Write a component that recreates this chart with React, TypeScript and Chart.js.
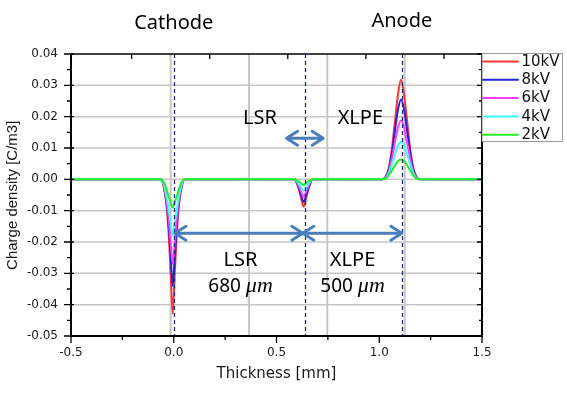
import { useEffect, useRef } from "react";
import { Chart, registerables } from "chart.js";

Chart.register(...registerables);

// ---- data ----
const thicknessMm = [
  -0.5,
  -0.065, -0.05, -0.035, -0.025, -0.015, -0.005, 0.005, 0.015, 0.025, 0.04, 0.055,
  0.587, 0.602, 0.617, 0.632, 0.647, 0.662, 0.677,
  1.016, 1.031, 1.046, 1.061, 1.076, 1.091, 1.106, 1.121, 1.136, 1.151, 1.166, 1.181, 1.196,
  1.5,
];

const rho10kV = [
  0,
  0, -0.0021, -0.0086, -0.0172, -0.030, -0.043, -0.030, -0.0172, -0.0086, -0.0021, 0,
  0, -0.0018, -0.0053, -0.0088, -0.0053, -0.0018, 0,
  0, 0.0008, 0.0035, 0.0095, 0.0184, 0.027, 0.0318, 0.027, 0.0184, 0.0095, 0.0035, 0.0008, 0,
  0,
];
const rho8kV = [
  0,
  0, -0.0017, -0.0075, -0.0143, -0.0245, -0.034, -0.0245, -0.0143, -0.0075, -0.0017, 0,
  0, -0.0015, -0.0044, -0.0072, -0.0044, -0.0015, 0,
  0, 0.0008, 0.0031, 0.0082, 0.0153, 0.0222, 0.0255, 0.0222, 0.0153, 0.0082, 0.0031, 0.0008, 0,
  0,
];
const rho6kV = [
  0,
  0, -0.0016, -0.0068, -0.0124, -0.020, -0.027, -0.020, -0.0124, -0.0068, -0.0016, 0,
  0, -0.0012, -0.0034, -0.0056, -0.0034, -0.0012, 0,
  0, 0.0006, 0.0024, 0.0064, 0.0117, 0.0165, 0.0188, 0.0165, 0.0117, 0.0064, 0.0024, 0.0006, 0,
  0,
];
const rho4kV = [
  0,
  0, -0.0013, -0.0054, -0.0094, -0.0139, -0.018, -0.0139, -0.0094, -0.0054, -0.0013, 0,
  0, -0.0008, -0.0024, -0.0038, -0.0024, -0.0008, 0,
  0, 0.0004, 0.0018, 0.0046, 0.0079, 0.0108, 0.012, 0.0108, 0.0079, 0.0046, 0.0018, 0.0004, 0,
  0,
];
const rho2kV = [
  0,
  0, -0.0007, -0.0032, -0.0054, -0.0072, -0.009, -0.0072, -0.0054, -0.0032, -0.0007, 0,
  0, -0.0004, -0.0011, -0.0018, -0.0011, -0.0004, 0,
  0, 0.0003, 0.0013, 0.0028, 0.0045, 0.0058, 0.0063, 0.0058, 0.0045, 0.0028, 0.0013, 0.0003, 0,
  0,
];

const seriesLabels = ["10kV", "8kV", "6kV", "4kV", "2kV"];
const seriesValues = [rho10kV, rho8kV, rho6kV, rho4kV, rho2kV];
const seriesColors = ["#ff3434", "#2424dc", "#ff3cff", "#3cffff", "#22ee22"];

const xMajorTicks = [-0.5, 0, 0.5, 1.0, 1.5];
const yMajorTicks = [-0.05, -0.04, -0.03, -0.02, -0.01, 0, 0.01, 0.02, 0.03, 0.04];
const verticalGridX = [-0.015, 0.366, 0.747, 1.124];
const topTickX = [-0.205, 0.175, 0.555, 0.935, 1.315];
const interfaceX = [0.0, 0.637, 1.113];

const electrodeLabels = [
  { text: "Cathode", x: 0.0, dy: -31 },
  { text: "Anode", x: 1.11, dy: -33 },
];
const upperLayerLabels = [
  { text: "LSR", x: 0.42, y: 0.0195 },
  { text: "XLPE", x: 0.908, y: 0.0195 },
];
const lowerLayerLabels = [
  { text: "LSR", num: "680 ", x: 0.325 },
  { text: "XLPE", num: "500 ", x: 0.87 },
];
const lowerLabelY = -0.0259;
const lowerNumY = -0.0341;
const lowerArrows = [
  [0.006, 0.628],
  [0.628, 1.11],
];
const lowerArrowY = -0.0172;
const upperArrow = [0.549, 0.727];
const upperArrowY = 0.0131;

const ARROW = "#4a7ebb";

function dblArrow(ctx: CanvasRenderingContext2D, x1: number, x2: number, yy: number) {
  const h = 11;
  const w = 7;
  ctx.beginPath();
  ctx.moveTo(x1 + 1, yy);
  ctx.lineTo(x2 - 1, yy);
  ctx.stroke();
  ctx.beginPath();
  ctx.moveTo(x1 + h, yy - w);
  ctx.lineTo(x1, yy);
  ctx.lineTo(x1 + h, yy + w);
  ctx.stroke();
  ctx.beginPath();
  ctx.moveTo(x2 - h, yy - w);
  ctx.lineTo(x2, yy);
  ctx.lineTo(x2 - h, yy + w);
  ctx.stroke();
}

const decorPlugin = {
  id: "decor",
  beforeDatasetsDraw(chart: any) {
    const { ctx, chartArea: a, scales } = chart;
    const xs = scales.x;
    const ys = scales.y;
    ctx.save();
    ctx.strokeStyle = "#c6c6c6";
    ctx.lineWidth = 1.5;
    for (const v of yMajorTicks) {
      const py = ys.getPixelForValue(v);
      if (py <= a.top + 1 || py >= a.bottom - 1) continue;
      ctx.beginPath();
      ctx.moveTo(a.left, py);
      ctx.lineTo(a.right, py);
      ctx.stroke();
    }
    ctx.lineWidth = 2;
    for (const v of verticalGridX) {
      const px = xs.getPixelForValue(v);
      ctx.beginPath();
      ctx.moveTo(px, a.top);
      ctx.lineTo(px, a.bottom);
      ctx.stroke();
    }
    ctx.restore();
  },
  afterDatasetsDraw(chart: any) {
    const { ctx, chartArea: a, scales } = chart;
    const xs = scales.x;
    const ys = scales.y;
    ctx.save();

    // dashed interface lines
    ctx.strokeStyle = "#1c2f78";
    ctx.lineWidth = 1.3;
    ctx.setLineDash([4, 3]);
    for (const v of interfaceX) {
      const px = Math.round(xs.getPixelForValue(v)) + 0.5;
      ctx.beginPath();
      ctx.moveTo(px, a.top);
      ctx.lineTo(px, a.bottom);
      ctx.stroke();
    }
    ctx.setLineDash([]);

    // frame
    ctx.strokeStyle = "#000";
    ctx.lineWidth = 2;
    ctx.beginPath();
    ctx.moveTo(a.left, a.top);
    ctx.lineTo(a.left, a.bottom);
    ctx.lineTo(a.right, a.bottom);
    ctx.lineTo(a.right, a.top);
    ctx.stroke();
    ctx.lineWidth = 1.5;
    ctx.beginPath();
    ctx.moveTo(a.left, a.top);
    ctx.lineTo(a.right, a.top);
    ctx.stroke();

    // ticks
    ctx.lineWidth = 1.3;
    ctx.beginPath();
    for (let i = 0; i < xMajorTicks.length; i++) {
      const px = xs.getPixelForValue(xMajorTicks[i]);
      ctx.moveTo(px, a.bottom);
      ctx.lineTo(px, a.bottom + 7);
      if (i < xMajorTicks.length - 1) {
        const pm = xs.getPixelForValue((xMajorTicks[i] + xMajorTicks[i + 1]) / 2);
        ctx.moveTo(pm, a.bottom);
        ctx.lineTo(pm, a.bottom + 4);
      }
    }
    for (let i = 0; i < yMajorTicks.length; i++) {
      const py = ys.getPixelForValue(yMajorTicks[i]);
      ctx.moveTo(a.left - 7, py);
      ctx.lineTo(a.left + 3, py);
      ctx.moveTo(a.right - 5, py);
      ctx.lineTo(a.right, py);
      if (i < yMajorTicks.length - 1) {
        const pm = ys.getPixelForValue((yMajorTicks[i] + yMajorTicks[i + 1]) / 2);
        ctx.moveTo(a.left - 4, pm);
        ctx.lineTo(a.left, pm);
        ctx.moveTo(a.right - 3, pm);
        ctx.lineTo(a.right, pm);
      }
    }
    for (const v of topTickX) {
      const px = xs.getPixelForValue(v);
      ctx.moveTo(px, a.top);
      ctx.lineTo(px, a.top + 5);
    }
    ctx.stroke();

    // axis titles
    ctx.fillStyle = "#1a1a1a";
    ctx.font = '15px "DejaVu Sans"';
    ctx.textAlign = "center";
    ctx.textBaseline = "middle";
    ctx.fillText("Thickness [mm]", (a.left + a.right) / 2, a.bottom + 38);
    ctx.save();
    ctx.translate(13, ys.getPixelForValue(-0.0051));
    ctx.rotate(-Math.PI / 2);
    ctx.font = '15px "Liberation Sans"';
    ctx.fillText("Charge density [C/m3]", 0, 0);
    ctx.restore();

    // arrows
    ctx.strokeStyle = ARROW;
    ctx.lineWidth = 3;
    ctx.lineCap = "round";
    ctx.lineJoin = "round";
    for (const [x1, x2] of lowerArrows) {
      dblArrow(ctx, xs.getPixelForValue(x1), xs.getPixelForValue(x2), ys.getPixelForValue(lowerArrowY));
    }
    dblArrow(ctx, xs.getPixelForValue(upperArrow[0]), xs.getPixelForValue(upperArrow[1]), ys.getPixelForValue(upperArrowY));

    // annotation texts
    ctx.fillStyle = "#000";
    ctx.font = '20px "Noto Sans"';
    ctx.textAlign = "center";
    ctx.textBaseline = "middle";
    for (const l of electrodeLabels) {
      ctx.fillText(l.text, xs.getPixelForValue(l.x), a.top + l.dy);
    }
    for (const l of upperLayerLabels) {
      ctx.fillText(l.text, xs.getPixelForValue(l.x), ys.getPixelForValue(l.y));
    }
    for (const l of lowerLayerLabels) {
      const cx = xs.getPixelForValue(l.x);
      ctx.font = '20px "Noto Sans"';
      ctx.textAlign = "center";
      ctx.fillText(l.text, cx, ys.getPixelForValue(lowerLabelY));
      const numFont = '19px "Noto Sans"';
      const muFont = 'italic 22px "Liberation Serif"';
      ctx.font = numFont;
      const w1 = ctx.measureText(l.num).width;
      ctx.font = muFont;
      const w2 = ctx.measureText("\u03bcm").width;
      const start = cx - (w1 + w2) / 2;
      const py = ys.getPixelForValue(lowerNumY);
      ctx.textAlign = "left";
      ctx.font = numFont;
      ctx.fillText(l.num, start, py);
      ctx.font = muFont;
      ctx.fillText("\u03bcm", start + w1, py);
    }

    // legend
    const lx = a.right;
    const ly = 53;
    const lw = 80;
    const lh = 88;
    ctx.fillStyle = "#fff";
    ctx.fillRect(lx, ly, lw, lh);
    ctx.strokeStyle = "#9a9a9a";
    ctx.lineWidth = 1;
    ctx.strokeRect(lx + 0.5, ly + 0.5, lw, lh);
    ctx.font = '15px "DejaVu Sans"';
    ctx.textAlign = "left";
    ctx.textBaseline = "middle";
    for (let i = 0; i < seriesLabels.length; i++) {
      const yy = ly + 8.5 + i * 18.3;
      ctx.strokeStyle = seriesColors[i];
      ctx.lineWidth = 2;
      ctx.beginPath();
      ctx.moveTo(lx + 1, yy);
      ctx.lineTo(lx + 36, yy);
      ctx.stroke();
      ctx.fillStyle = "#111";
      ctx.fillText(seriesLabels[i], lx + 39.5, yy + 0.5);
    }
    ctx.restore();
  },
};

export default function App() {
  const canvasRef = useRef<HTMLCanvasElement | null>(null);

  useEffect(() => {
    const canvas = canvasRef.current;
    if (!canvas) return;
    const fmt = (digits: number) => (v: any) => {
      const n = Number(v);
      return Math.abs(n) < 1e-9 ? (0).toFixed(digits) : n.toFixed(digits);
    };
    const chart = new Chart(canvas, {
      type: "line",
      data: {
        datasets: seriesLabels.map((label, i) => ({
          label,
          data: thicknessMm.map((x, j) => ({ x, y: seriesValues[i][j] })),
          borderColor: seriesColors[i],
          backgroundColor: seriesColors[i],
          borderWidth: 2,
          pointRadius: 0,
          fill: false,
          cubicInterpolationMode: "monotone" as const,
          order: seriesLabels.length - 1 - i,
        })),
      },
      options: {
        responsive: false,
        animation: false,
        devicePixelRatio: 1,
        layout: { padding: { top: 54, right: 85, left: 0, bottom: 0 } },
        plugins: {
          legend: { display: false },
          tooltip: { enabled: false },
        },
        scales: {
          x: {
            type: "linear",
            min: -0.5,
            max: 1.5,
            afterFit: (s: any) => {
              s.height = 57;
            },
            grid: { display: false, drawTicks: false },
            border: { display: false },
            ticks: {
              stepSize: 0.5,
              padding: 10,
              maxRotation: 0,
              autoSkip: false,
              color: "#1a1a1a",
              font: { family: "DejaVu Sans", size: 12 },
              callback: fmt(1),
            },
          },
          y: {
            type: "linear",
            min: -0.05,
            max: 0.04,
            afterFit: (s: any) => {
              s.width = 71;
            },
            grid: { display: false, drawTicks: false },
            border: { display: false },
            ticks: {
              stepSize: 0.01,
              padding: 13,
              autoSkip: false,
              color: "#1a1a1a",
              font: { family: "DejaVu Sans", size: 12 },
              callback: fmt(2),
            },
          },
        },
      },
      plugins: [decorPlugin],
    });
    return () => chart.destroy();
  }, []);

  return (
    <div style={{ position: "absolute", left: 0, top: 0, width: 567, height: 393, background: "#fff" }}>
      <canvas ref={canvasRef} width={567} height={393} style={{ display: "block" }} />
    </div>
  );
}
